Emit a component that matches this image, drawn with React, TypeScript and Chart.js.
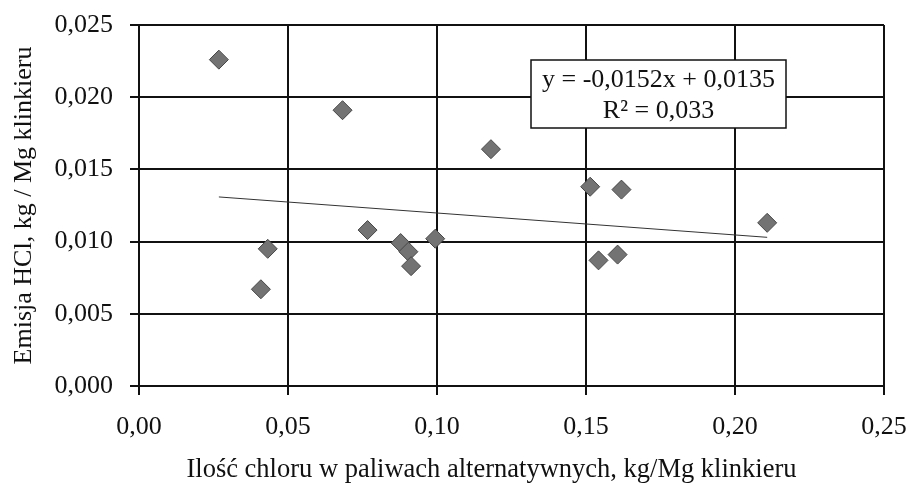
import React, { useEffect, useRef } from 'react';
import { Chart, registerables } from 'chart.js';

Chart.register(...registerables);

// Chlorine in alternative fuels, kg/Mg clinker
const chlorine = [0.0268, 0.0683, 0.0767, 0.0878, 0.0904, 0.0913, 0.0994, 0.1181, 0.0432, 0.0409, 0.1514, 0.1619, 0.2108, 0.1542, 0.1606];
// HCl emission, kg/Mg clinker
const hclEmission = [0.0226, 0.0191, 0.0108, 0.0099, 0.0093, 0.0083, 0.0102, 0.0164, 0.0095, 0.0067, 0.0138, 0.0136, 0.0113, 0.0087, 0.0091];

const trendSlope = -0.0152;
const trendIntercept = 0.0135;
const rSquared = 0.033;

const xTicks = [0, 0.05, 0.1, 0.15, 0.2, 0.25];
const yTicks = [0, 0.005, 0.01, 0.015, 0.02, 0.025];

const xTitle = 'Ilość chloru w paliwach alternatywnych, kg/Mg klinkieru';
const yTitle = 'Emisja HCl, kg / Mg klinkieru';

const FONT = '"Liberation Serif", "Times New Roman", serif';
const fmt = (v: number, d: number) => v.toFixed(d).replace('.', ',');

export default function App() {
  const ref = useRef<HTMLCanvasElement>(null);

  useEffect(() => {
    if (!ref.current) return;
    const xMin = Math.min(...chlorine);
    const xMax = Math.max(...chlorine);
    const trend = [xMin, xMax].map((x) => ({ x, y: trendSlope * x + trendIntercept }));

    const overlay = {
      id: 'overlay',
      afterDatasetsDraw(chart: any) {
        const { ctx, chartArea: a } = chart;
        ctx.save();
        // equation box
        const bx = a.left + 392;
        const by = a.top + 35;
        const bw = 255;
        const bh = 68;
        ctx.fillStyle = '#fff';
        ctx.fillRect(bx, by, bw, bh);
        ctx.strokeStyle = '#111';
        ctx.lineWidth = 1.5;
        ctx.strokeRect(bx, by, bw, bh);
        ctx.fillStyle = '#111';
        ctx.font = `26px ${FONT}`;
        ctx.textAlign = 'center';
        ctx.textBaseline = 'middle';
        const sign = trendIntercept >= 0 ? '+' : '-';
        ctx.fillText(`y = ${fmt(trendSlope, 4)}x ${sign} ${fmt(Math.abs(trendIntercept), 4)}`, bx + bw / 2, by + 20);
        ctx.fillText(`R² = ${fmt(rSquared, 3)}`, bx + bw / 2, by + 51);
        ctx.restore();
      },
      afterDraw(chart: any) {
        const { ctx, chartArea: a } = chart;
        ctx.save();
        ctx.fillStyle = '#111';
        ctx.font = `26.5px ${FONT}`;
        ctx.textAlign = 'center';
        ctx.textBaseline = 'middle';
        ctx.fillText(xTitle, (a.left + a.right) / 2 - 20, 470);
        ctx.restore();
      },
    };

    const chart = new Chart(ref.current, {
      type: 'scatter',
      data: {
        datasets: [
          {
            type: 'line',
            data: trend,
            borderColor: '#333',
            borderWidth: 1,
            pointRadius: 0,
            fill: false,
          } as any,
          {
            data: chlorine.map((x, i) => ({ x, y: hclEmission[i] })),
            pointStyle: 'rectRot',
            pointRadius: 9.5,
            backgroundColor: '#737373',
            borderColor: '#474747',
            borderWidth: 1,
          },
        ],
      },
      options: {
        responsive: false,
        animation: false,
        events: [],
        layout: { padding: { left: 0, top: 25, right: 27, bottom: 0 } },
        plugins: { legend: { display: false }, tooltip: { enabled: false } },
        scales: {
          x: {
            type: 'linear',
            min: 0,
            max: 0.25,
            afterFit: (s: any) => { s.height = 97; s.paddingLeft = 0; s.paddingRight = 0; },
            afterBuildTicks: (s: any) => { s.ticks = xTicks.map((v) => ({ value: v })); },
            grid: { color: '#111', lineWidth: 2, tickLength: 9, drawTicks: true },
            border: { color: '#111', width: 2 },
            ticks: {
              color: '#111',
              padding: 17,
              font: { family: FONT, size: 26 },
              callback: (v: any) => fmt(Number(v), 2),
              maxRotation: 0,
            },
          },
          y: {
            type: 'linear',
            min: 0,
            max: 0.025,
            afterFit: (s: any) => { s.width = 139; s.paddingTop = 0; s.paddingBottom = 0; },
            afterBuildTicks: (s: any) => { s.ticks = yTicks.map((v) => ({ value: v })); },
            grid: { color: '#111', lineWidth: 2, tickLength: 9, drawTicks: true },
            border: { color: '#111', width: 2 },
            ticks: {
              color: '#111',
              padding: 17,
              font: { family: FONT, size: 26 },
              callback: (v: any) => fmt(Number(v), 3),
            },
            title: {
              display: true,
              text: yTitle,
              color: '#111',
              font: { family: FONT, size: 26 },
              padding: { top: 9, bottom: 0 },
            },
          },
        },
      },
      plugins: [overlay],
    } as any);
    return () => chart.destroy();
  }, []);

  return (
    <div style={{ position: 'absolute', left: 0, top: 0, width: 911, height: 483, background: '#fff' }}>
      <canvas ref={ref} width={911} height={483} />
    </div>
  );
}
